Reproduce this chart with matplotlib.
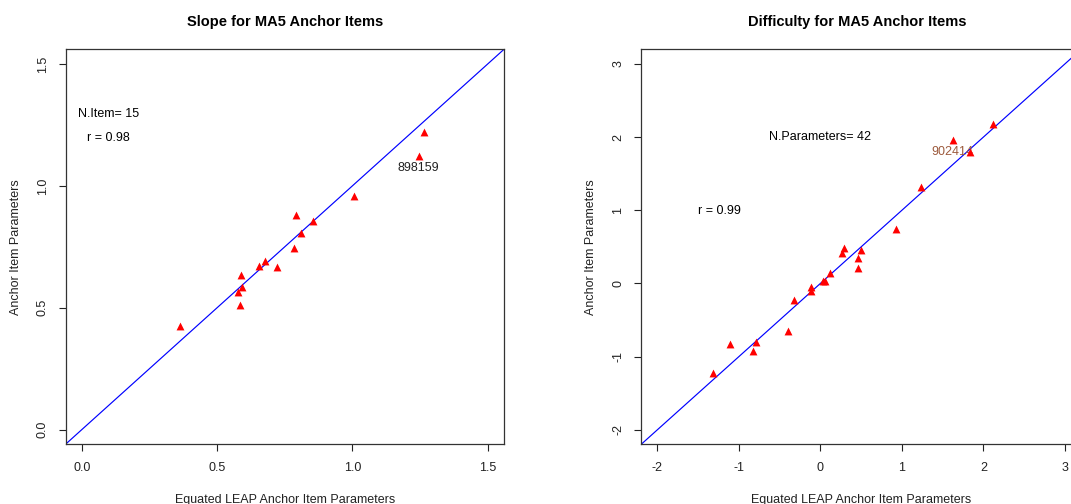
import matplotlib
matplotlib.use("Agg")
import matplotlib.pyplot as plt

plt.rcParams['font.family'] = ['Liberation Sans', 'DejaVu Sans']

# slope panel
slope_x = [0.363, 0.586, 0.579, 0.591, 0.589, 0.655, 0.676, 0.723, 0.784,
           0.791, 0.809, 0.854, 1.006, 1.245, 1.265]
slope_y = [0.425, 0.510, 0.566, 0.586, 0.634, 0.671, 0.692, 0.668, 0.744,
           0.882, 0.806, 0.855, 0.959, 1.121, 1.222]
slope_flag = 13  # index of labelled item
slope_flag_id = "898159"
slope_ticks = [0.0, 0.5, 1.0, 1.5]
slope_ticklabels = ["0.0", "0.5", "1.0", "1.5"]

# difficulty panel
diff_x = [-1.313, -1.108, -0.830, -0.790, -0.395, -0.320, -0.114, -0.114,
          0.031, 0.058, 0.119, 0.263, 0.293, 0.461, 0.466, 0.503, 0.933,
          1.229, 1.625, 1.838, 2.121]
diff_y = [-1.222, -0.826, -0.918, -0.802, -0.648, -0.225, -0.046, -0.098,
          0.031, 0.033, 0.138, 0.417, 0.483, 0.215, 0.343, 0.458, 0.746,
          1.317, 1.964, 1.800, 2.182]
diff_flag = 18
diff_flag_id = "902414"
diff_ticks = [-2, -1, 0, 1, 2, 3]
diff_ticklabels = ["-2", "-1", "0", "1", "2", "3"]

W, H = 1071, 504
fig = plt.figure(figsize=(W / 100, H / 100), dpi=100)
fig.patch.set_facecolor('white')

ax1 = fig.add_axes([65.5 / W, (H - 444.3) / H, 438.5 / W, 395 / H])
ax2 = fig.add_axes([641.2 / W, (H - 444.3) / H, 440 / W, 395 / H])


def setup(ax, lo, hi, ticks, ticklabels, title):
    ax.set_xlim(lo, hi)
    ax.set_ylim(lo, hi)
    ax.plot([lo, hi], [lo, hi], color='blue', lw=0.85, zorder=2)
    ax.set_xticks(ticks)
    ax.set_xticklabels(ticklabels)
    ax.set_yticks(ticks)
    ax.set_yticklabels(ticklabels, rotation=90, va='center')
    ax.tick_params(direction='out', length=5, width=0.8, labelsize=9,
                   colors='#222222')
    ax.tick_params(axis='x', pad=8)
    ax.tick_params(axis='y', pad=7)
    for s in ax.spines.values():
        s.set_color('#333333')
        s.set_linewidth(0.9)
    ax.set_title(title, fontsize=10.5, fontweight='bold', pad=17)
    ax.set_xlabel("Equated LEAP Anchor Item Parameters", fontsize=9,
                  labelpad=14, color='#222222')
    ax.set_ylabel("Anchor Item Parameters", fontsize=9, labelpad=11,
                  color='#222222')


setup(ax1, -0.06, 1.56, slope_ticks, slope_ticklabels,
      "Slope for MA5 Anchor Items")
ax1.scatter(slope_x, slope_y, marker='^', s=32, color='red', lw=0, zorder=3)
ax1.text(0.099, 1.293, "N.Item= 15", fontsize=9, ha='center', va='center')
ax1.text(0.099, 1.197, "r = 0.98", fontsize=9, ha='center', va='center')
ax1.annotate(slope_flag_id, (slope_x[slope_flag], slope_y[slope_flag]),
             xytext=(0, -8.5), textcoords='offset points', ha='center',
             va='center', fontsize=9, color='#222222')

setup(ax2, -2.2, 3.2, diff_ticks, diff_ticklabels,
      "Difficulty for MA5 Anchor Items")
ax2.title.set_position((0.49, 1.0))
ax2.scatter(diff_x, diff_y, marker='^', s=32, color='red', lw=0, zorder=3)
ax2.text(-0.006, 2.0, "N.Parameters= 42", fontsize=9, ha='center', va='center')
ax2.text(-1.24, 0.99, "r = 0.99", fontsize=9, ha='center', va='center')
ax2.annotate(diff_flag_id, (diff_x[diff_flag], diff_y[diff_flag]),
             xytext=(0, -8.5), textcoords='offset points', ha='center',
             va='center', fontsize=9, color='#9c5a3c', zorder=2)

fig.savefig("out.png", dpi=100, facecolor='white')
